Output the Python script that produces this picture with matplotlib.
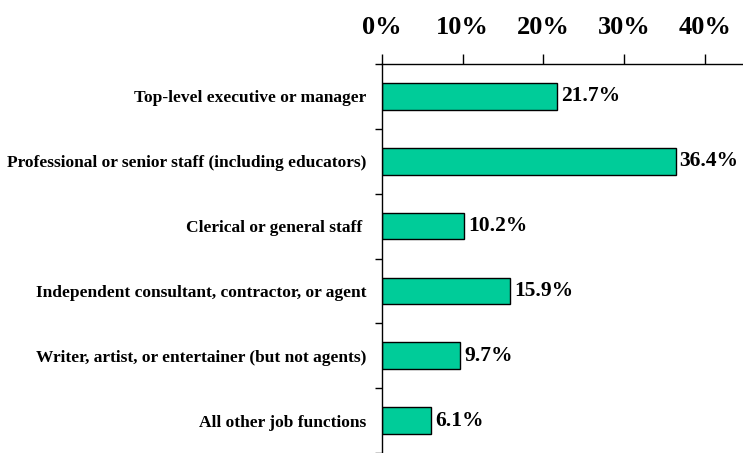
import matplotlib
matplotlib.use("Agg")
import matplotlib.pyplot as plt
import numpy as np

categories = [
    "Top-level executive or manager",
    "Professional or senior staff (including educators)",
    "Clerical or general staff ",
    "Independent consultant, contractor, or agent",
    "Writer, artist, or entertainer (but not agents)",
    "All other job functions",
]
values = [21.7, 36.4, 10.2, 15.9, 9.7, 6.1]
xticks = [0, 10, 20, 30, 40]
xtick_labels = ["0%", "10%", "20%", "30%", "40%"]

plt.rcParams['font.family'] = ['Liberation Serif', 'DejaVu Serif']
plt.rcParams['font.weight'] = 'bold'

W, H = 743, 453
fig = plt.figure(figsize=(W / 100, H / 100), dpi=100)
ax_left = 382 / W
ax_top = 64 / H
ax = fig.add_axes([ax_left, 0.0, 1.0 - ax_left, 1.0 - ax_top])

y = np.arange(len(categories))
bars = ax.barh(y, values, height=0.41, color="#00CC99", edgecolor="black", linewidth=1.0)

ax.set_xlim(0, 44.75)
step = 65.5
ax.set_ylim(-0.5 + (H - 64) / step, -0.5)

ax.xaxis.tick_top()
ax.set_xticks(xticks)
ax.set_xticklabels(xtick_labels, fontsize=19, fontweight='bold')
ax.tick_params(axis='x', which='major', direction='out', length=7, width=1, pad=11)

ax.set_yticks(y)
ax.set_yticklabels(categories, fontsize=12.5, fontweight='bold')
ax.tick_params(axis='y', which='major', length=0, pad=11)
ax.set_yticks(np.arange(-0.5, len(categories) + 0.5, 1), minor=True)
ax.tick_params(axis='y', which='minor', direction='out', length=5, width=1)

for s in ['right', 'bottom']:
    ax.spines[s].set_visible(False)
ax.spines['left'].set_linewidth(1)
ax.spines['top'].set_linewidth(1)

for yi, v in zip(y, values):
    ax.text(v + 0.5, yi, f"{v:.1f}%", va='center', ha='left', fontsize=15.5, fontweight='bold')

fig.savefig("out.png", dpi=100)
